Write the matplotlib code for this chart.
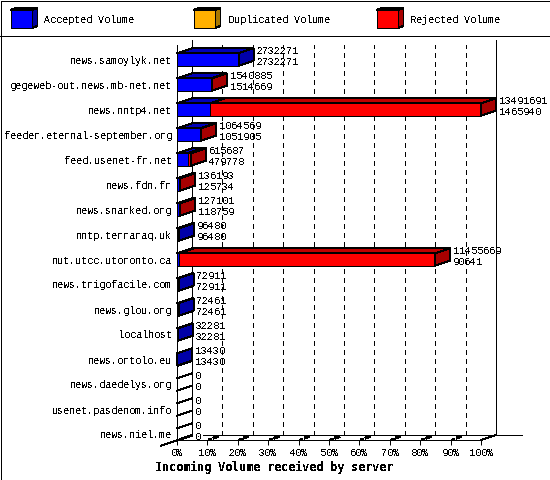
import matplotlib
matplotlib.use('Agg')
import matplotlib.pyplot as plt
from matplotlib.patches import Polygon, Rectangle
from matplotlib.lines import Line2D

plt.rcParams['font.family'] = ['Liberation Mono', 'DejaVu Sans Mono']
plt.rcParams['text.antialiased'] = False
plt.rcParams['text.hinting_factor'] = 1
plt.rcParams['lines.antialiased'] = False
plt.rcParams['patch.antialiased'] = False

servers = ['news.samoylyk.net', 'gegeweb-out.news.mb-net.net', 'news.nntp4.net',
           'feeder.eternal-september.org', 'feed.usenet-fr.net', 'news.fdn.fr',
           'news.snarked.org', 'nntp.terraraq.uk', 'nut.utcc.utoronto.ca',
           'news.trigofacile.com', 'news.glou.org', 'localhost', 'news.ortolo.eu',
           'news.daedelys.org', 'usenet.pasdenom.info', 'news.niel.me']
offered = [2732271, 1540885, 13491691, 1064569, 615687, 136193, 127101, 96480,
           11455669, 72911, 72461, 32281, 13430, 0, 0, 0]
accepted = [2732271, 1514669, 1465940, 1051905, 479778, 125734, 118759, 96480,
            90641, 72911, 72461, 32281, 13430, 0, 0, 0]
pct_ticks = [0, 10, 20, 30, 40, 50, 60, 70, 80, 90, 100]
legend_names = ['Accepted Volume', 'Duplicated Volume', 'Rejected Volume']

W, H = 550, 480
PX = 0.72  # one pixel in points at dpi 100
fig = plt.figure(figsize=(W / 100, H / 100), dpi=100)

# axes is the front plane of the fake 3d box
ax = fig.add_axes([177 / W, (H - 440) / H, 304 / W, 395 / H])
ax.set_xlim(0, 100)
ax.set_ylim(15.22, -0.58)
ax.patch.set_alpha(0)
for s in ['top', 'right']:
    ax.spines[s].set_visible(False)
for s in ['left', 'bottom']:
    ax.spines[s].set_linewidth(PX)

# depth of the box, in data units
DX = 15 / 3.04
DY = 5 / 25
HALF = 0.25
LW = PX
FS = 7.4
scale = max(offered)


def seg(x0, x1, y0, y1, **kw):
    kw.setdefault('color', 'black')
    kw.setdefault('lw', LW)
    ax.add_line(Line2D([x0, x1], [y0, y1], clip_on=False, **kw))


y_floor = ax.get_ylim()[0]
y_top = ax.get_ylim()[1]

# back wall, floor edges
seg(DX, DX, y_floor - DY, y_top - DY, zorder=1)
seg(100 + DX, 100 + DX, y_floor - DY, y_top - DY, zorder=1)
seg(8.6, 113.5, y_floor - DY, y_floor - DY, zorder=1)
seg(-5.2, DX, y_floor + 0.23, y_floor - DY, zorder=1)
seg(100, 100 + DX, y_floor, y_floor - DY, zorder=1)

for p in pct_ticks[1:-1]:
    # dashed grid on the back wall
    seg(p + DX, p + DX, y_floor - DY, y_top - DY + 0.2,
        linestyle=(0, (5, 5)), zorder=1)
    # broken slanted marks on the floor
    seg(p + 0.1 * DX, p + 0.25 * DX, y_floor - 0.1 * DY, y_floor - 0.25 * DY, zorder=1)
    seg(p + 0.45 * DX, p + 0.65 * DX, y_floor - 0.45 * DY, y_floor - 0.65 * DY,
        lw=2 * LW, zorder=1)


def box(ax_, x0, x1, row, face, top):
    y0, y1 = row - HALF, row + HALF
    ax_.add_patch(Polygon([(x0, y0), (x0 + DX, y0 - DY), (x1 + DX, y0 - DY), (x1, y0)],
                          facecolor=top, edgecolor='black', lw=LW, clip_on=False, zorder=3))
    ax_.add_patch(Rectangle((x0, y0), x1 - x0, y1 - y0,
                            facecolor=face, edgecolor='black', lw=LW, clip_on=False, zorder=3))


def side(ax_, x, row, color):
    y0, y1 = row - HALF, row + HALF
    ax_.add_patch(Polygon([(x, y0), (x + DX, y0 - DY), (x + DX, y1 - DY), (x, y1)],
                          facecolor=color, edgecolor='black', lw=LW, clip_on=False, zorder=4))


for i, (off, acc) in enumerate(zip(offered, accepted)):
    a = acc / scale * 100
    o = off / scale * 100
    if off == 0:
        # empty bars only leave their slanted edges
        seg(0, DX, i - HALF, i - HALF - DY, zorder=2)
        seg(0, DX, i + HALF, i + HALF - DY, zorder=2)
    else:
        box(ax, 0, a, i, '#0000ff', '#0000b8')
        if off > acc:
            box(ax, a, o, i, '#ff0000', '#c00000')
            side(ax, o, i, '#a80000')
        else:
            side(ax, o, i, '#0000a8')
    ax.annotate(str(off), (o, i), xytext=(18 * PX, 8.5 * PX), textcoords='offset points',
                ha='left', va='center', fontsize=FS, zorder=5, annotation_clip=False)
    ax.annotate(str(acc), (o, i), xytext=(18 * PX, -2.5 * PX), textcoords='offset points',
                ha='left', va='center', fontsize=FS, zorder=5, annotation_clip=False)

ax.set_yticks(range(len(servers)))
ax.set_yticklabels(servers, fontsize=FS)
ax.tick_params(axis='y', length=0, pad=5 * PX)
ax.set_xticks(pct_ticks)
ax.set_xticklabels(['%d%%' % p for p in pct_ticks], fontsize=FS)
ax.tick_params(axis='x', length=5 * PX, width=LW, pad=3 * PX)
fig.text(274 / W, 1 - 467 / H, 'Incoming Volume received by server', ha='center', va='center',
         fontsize=8.4, fontweight='bold', family='DejaVu Sans Mono')

# legend strip, drawn in figure pixels
px = fig.add_axes([0, 0, 1, 1], zorder=-1)
px.set_xlim(0, W)
px.set_ylim(H, 0)
px.axis('off')
px.add_patch(Rectangle((0.5, 0.5), W - 1, H - 1, facecolor='white', edgecolor='black', lw=LW))
px.plot([0, W], [35.5, 35.5], color='black', lw=LW)
legend_x = [10.5, 193.5, 376.5]
legend_front = ['#0000ff', '#ffb000', '#ff0000']
legend_top = ['#0000b8', '#d09000', '#c00000']
legend_side = ['#0000a0', '#a87800', '#a80000']
for x, name, f, t, sd in zip(legend_x, legend_names, legend_front, legend_top, legend_side):
    px.add_patch(Polygon([(x, 10), (x + 6, 8), (x + 27, 8), (x + 21, 10)], facecolor=t,
                         edgecolor='black', lw=LW))
    px.add_patch(Polygon([(x + 21, 10), (x + 27, 8), (x + 27, 26), (x + 21, 28)], facecolor=sd,
                         edgecolor='black', lw=LW))
    px.add_patch(Rectangle((x, 10), 21, 18, facecolor=f, edgecolor='black', lw=LW))
    px.text(x + 34, 20, name, ha='left', va='center', fontsize=FS)

fig.savefig('out.png', dpi=100)
